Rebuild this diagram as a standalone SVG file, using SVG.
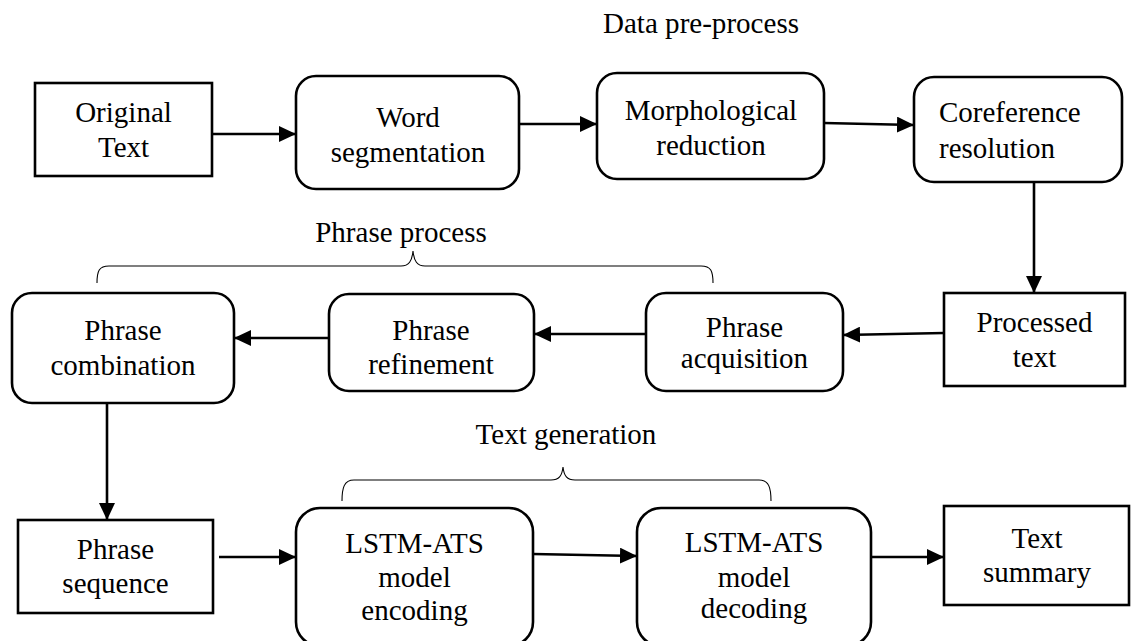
<svg xmlns="http://www.w3.org/2000/svg" width="1133" height="641" viewBox="0 0 1133 641">
  <style>
    .box { fill: #ffffff; stroke: #000000; stroke-width: 2.6; }
    .lbl { font-family: "Liberation Serif", "Times New Roman", serif; font-size: 29px; fill: #000000; text-anchor: middle; }
    .cap { font-family: "Liberation Serif", "Times New Roman", serif; font-size: 29px; fill: #000000; }
    .flow { fill: none; stroke: #000000; stroke-width: 2.6; marker-end: url(#head); }
    .brace { fill: none; stroke: #000000; stroke-width: 1.1; }
  </style>
  <defs>
    <marker id="head" markerUnits="userSpaceOnUse" markerWidth="17" markerHeight="16" refX="17" refY="8" orient="auto">
      <path d="M0,0 L17,8 L0,16 Z" fill="#000000"/>
    </marker>
  </defs>

  <rect width="1133" height="641" fill="#ffffff"/>

  <!-- group captions -->
  <text class="cap" x="603" y="33" textLength="196" lengthAdjust="spacingAndGlyphs">Data pre-process</text>
  <text class="lbl" x="401" y="242">Phrase process</text>
  <text class="lbl" x="566" y="444">Text generation</text>

  <!-- curly braces -->
  <g id="braces">
    <path class="brace" d="M97,283 C97,271 99,266 109,266 L401,266 C409,266 412,261 413,251 C414,261 417,266 425,266 L701,266 C711,266 713,271 713,283"/>
    <path class="brace" d="M342,501 C342,488 344,480 354,480 L551,480 C559,480 562,476 563,467 C564,476 567,480 575,480 L759,480 C769,480 771,488 771,501"/>
  </g>

  <!-- connectors -->
  <g id="connectors">
    <line class="flow" x1="212" y1="134" x2="296" y2="134"/>
    <line class="flow" x1="519" y1="124" x2="597" y2="124"/>
    <line class="flow" x1="824" y1="123" x2="914" y2="125"/>
    <line class="flow" x1="1034" y1="182" x2="1034" y2="293"/>
    <line class="flow" x1="944" y1="333" x2="843" y2="335"/>
    <line class="flow" x1="646" y1="334" x2="534" y2="334"/>
    <line class="flow" x1="329" y1="338" x2="234" y2="338"/>
    <line class="flow" x1="107" y1="403" x2="107" y2="520"/>
    <line class="flow" x1="219" y1="557" x2="296" y2="557"/>
    <line class="flow" x1="533" y1="554" x2="637" y2="556"/>
    <line class="flow" x1="871" y1="557" x2="944" y2="557"/>
  </g>

  <!-- row 1 -->
  <g id="original-text">
    <rect class="box" x="35" y="83" width="177" height="93"/>
    <text class="lbl" x="123.5" y="122">Original</text>
    <text class="lbl" x="123.5" y="157">Text</text>
  </g>
  <g id="word-segmentation">
    <rect class="box" x="296" y="76" width="223" height="113" rx="20"/>
    <text class="lbl" x="408" y="127">Word</text>
    <text class="lbl" x="408" y="162">segmentation</text>
  </g>
  <g id="morphological-reduction">
    <rect class="box" x="597" y="73" width="227" height="106" rx="20"/>
    <text class="lbl" x="711" y="120">Morphological</text>
    <text class="lbl" x="711" y="155">reduction</text>
  </g>
  <g id="coreference-resolution">
    <rect class="box" x="914" y="77" width="208" height="105" rx="20"/>
    <text class="cap" x="939" y="122">Coreference</text>
    <text class="cap" x="939" y="158">resolution</text>
  </g>

  <!-- row 2 -->
  <g id="processed-text">
    <rect class="box" x="944" y="293" width="181" height="93"/>
    <text class="lbl" x="1034.5" y="332">Processed</text>
    <text class="lbl" x="1034.5" y="367">text</text>
  </g>
  <g id="phrase-acquisition">
    <rect class="box" x="646" y="293" width="197" height="98" rx="20"/>
    <text class="lbl" x="744.5" y="337">Phrase</text>
    <text class="lbl" x="744.5" y="368">acquisition</text>
  </g>
  <g id="phrase-refinement">
    <rect class="box" x="329" y="294" width="205" height="97" rx="20"/>
    <text class="lbl" x="431" y="340">Phrase</text>
    <text class="lbl" x="431" y="374">refinement</text>
  </g>
  <g id="phrase-combination">
    <rect class="box" x="12" y="293" width="222" height="110" rx="20"/>
    <text class="lbl" x="123" y="340">Phrase</text>
    <text class="lbl" x="123" y="375">combination</text>
  </g>

  <!-- row 3 -->
  <g id="phrase-sequence">
    <rect class="box" x="18" y="520" width="195" height="93"/>
    <text class="lbl" x="115.5" y="559">Phrase</text>
    <text class="lbl" x="115.5" y="593">sequence</text>
  </g>
  <g id="lstm-encoding">
    <rect class="box" x="296" y="508" width="237" height="138" rx="24"/>
    <text class="lbl" x="414.5" y="553">LSTM-ATS</text>
    <text class="lbl" x="414.5" y="587">model</text>
    <text class="lbl" x="414.5" y="620">encoding</text>
  </g>
  <g id="lstm-decoding">
    <rect class="box" x="637" y="508" width="234" height="138" rx="24"/>
    <text class="lbl" x="754" y="552">LSTM-ATS</text>
    <text class="lbl" x="754" y="587">model</text>
    <text class="lbl" x="754" y="618">decoding</text>
  </g>
  <g id="text-summary">
    <rect class="box" x="944" y="506" width="185" height="99"/>
    <text class="lbl" x="1037" y="548">Text</text>
    <text class="lbl" x="1037" y="582">summary</text>
  </g>
</svg>
